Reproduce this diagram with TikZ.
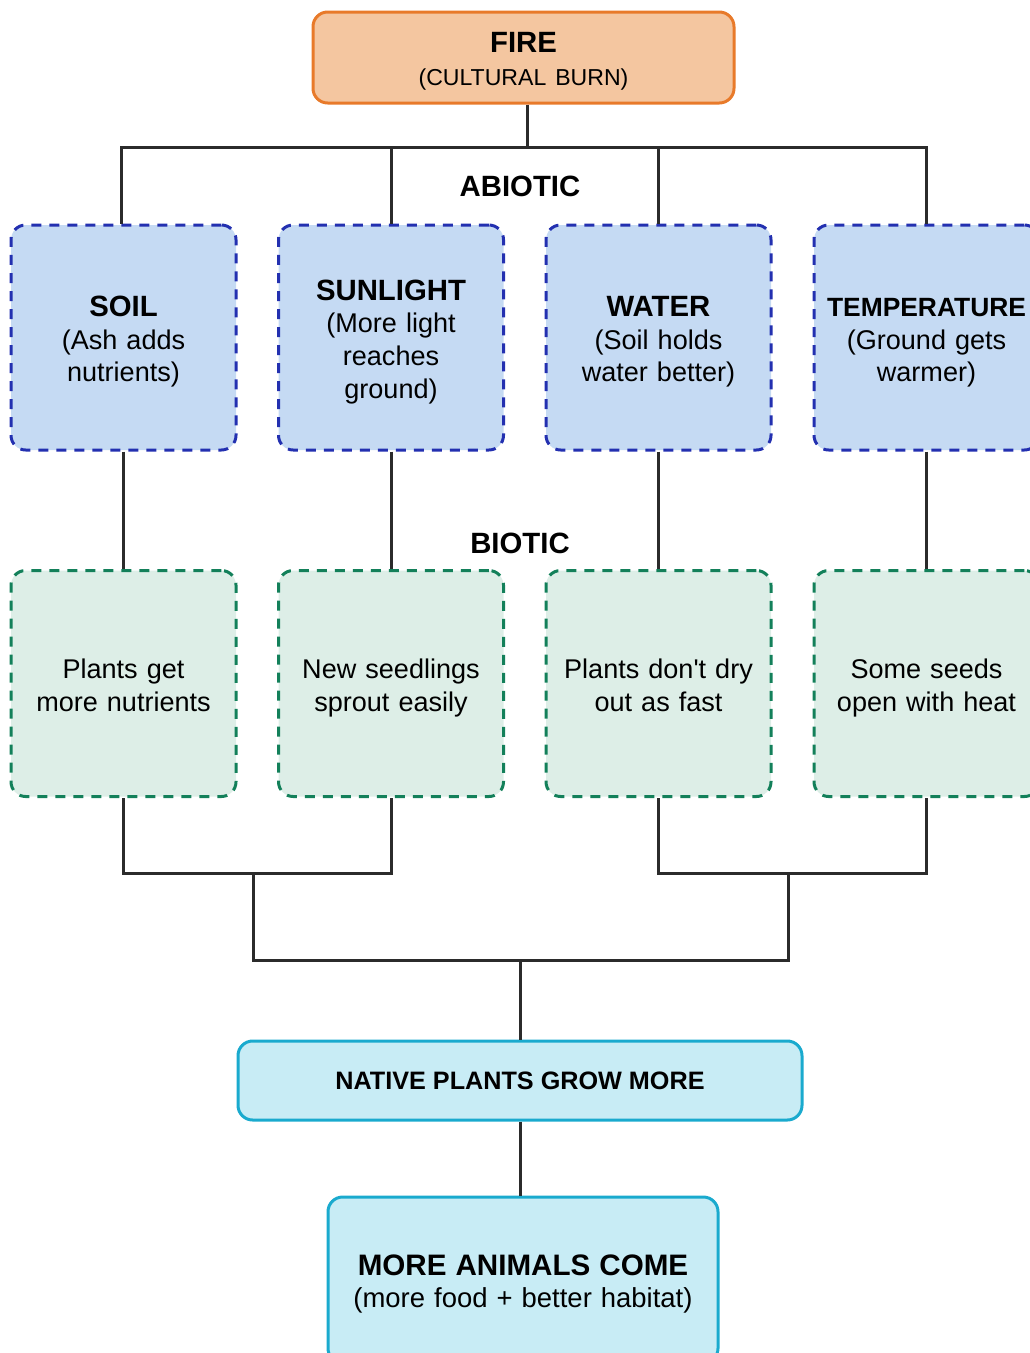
\documentclass[tikz,border=0pt]{standalone}
\usepackage{fontspec}
\setmainfont{Liberation Sans}
\usepackage{xcolor}
\usetikzlibrary{positioning}
\definecolor{FireOrange}{HTML}{E87A2A}
\definecolor{FireFill}{HTML}{F4C6A0}
\definecolor{AbioBlue}{HTML}{2330B0}
\definecolor{AbioFill}{HTML}{C5DAF3}
\definecolor{BioGreen}{HTML}{13805A}
\definecolor{BioFill}{HTML}{DDEEE7}
\definecolor{ResultCyan}{HTML}{1AAACE}
\definecolor{ResultFill}{HTML}{C8ECF5}
\definecolor{LinkGray}{HTML}{2B2B2B}
\newcommand{\boxhead}[2][22]{{\fontsize{#1}{25}\selectfont\bfseries #2}}

\begin{document}
\begin{tikzpicture}[
  x=0.75pt, y=-0.75pt,
  box/.style={rounded corners=11pt, line width=2.25pt, align=center, inner sep=0pt, font=\fontsize{20.3}{24.5}\selectfont},
  lines/.style={text width=#1, execute at begin node={\rule{0pt}{22.3pt}}, execute at end node={\rule[-5pt]{0pt}{5pt}}},
  firebox/.style={box, lines=300pt, draw=FireOrange, fill=FireFill, minimum width=315.75pt, minimum height=68.25pt},
  abiotic/.style={box, lines=160pt, draw=AbioBlue, fill=AbioFill, dash pattern=on 7.5pt off 6pt, minimum width=168.75pt, minimum height=168.75pt},
  biotic/.style={box, lines=160pt, draw=BioGreen, fill=BioFill, dash pattern=on 7.5pt off 6pt, minimum width=168.75pt, minimum height=169.5pt},
  result/.style={box, draw=ResultCyan, fill=ResultFill},
  heading/.style={font=\fontsize{22}{26}\selectfont\bfseries},
  link/.style={line width=2.25pt, draw=LinkGray}
]
\useasboundingbox (0,0) rectangle (1029,1353);

\node[firebox] (fire) at (523.5,57.5) {{\fontsize{22}{25.5}\selectfont\bfseries FIRE}\\{\fontsize{17.3}{25.5}\selectfont (CULTURAL BURN)}};

\node[heading] (abiohead) at (520,186) {ABIOTIC};
\node[abiotic] (soil) at (123.5,337.5) {\boxhead{SOIL}\\(Ash adds\\nutrients)};
\node[abiotic] (sun) at (391,337.5) {\boxhead{SUNLIGHT}\\(More light\\reaches\\ground)};
\node[abiotic] (water) at (658.5,337.5) {\boxhead{WATER}\\(Soil holds\\water better)};
\node[abiotic] (temp) at (926.5,337.5) {\boxhead[19.8]{TEMPERATURE}\\(Ground gets\\warmer)};

\node[heading] (biohead) at (520,543) {BIOTIC};
\node[biotic] (nutrients) at (123.5,683.5) {Plants get\\more nutrients};
\node[biotic] (seedlings) at (391,683.5) {New seedlings\\sprout easily};
\node[biotic] (moist) at (658.5,683.5) {Plants don\textquotesingle t dry\\out as fast};
\node[biotic] (seeds) at (926.5,683.5) {Some seeds\\open with heat};

\node[result, minimum width=423pt, minimum height=59.25pt, font=\fontsize{18.9}{24}\selectfont\bfseries, execute at begin node={\rule{0pt}{17.8pt}}, execute at end node={\rule[-5pt]{0pt}{5pt}}] (native) at (520,1080.5) {NATIVE PLANTS GROW MORE};
\node[result, lines=280pt, minimum width=292.5pt, minimum height=124.5pt] (animals) at (523,1280) {{\fontsize{22.2}{26}\selectfont\bfseries MORE ANIMALS COME}\\{\fontsize{20.6}{26}\selectfont (more food + better habitat)}};

\coordinate (topbar) at (527,147);
\coordinate (leftjoin) at (253,873);
\coordinate (rightjoin) at (788,873);
\coordinate (lowbar) at (520,960);

\draw[link] (fire.south -| topbar) -- (topbar);
\draw[link] (soil.north -| 121,0) |- (topbar) -| (temp.north);
\draw[link] (sun.north) -- (sun.north |- topbar);
\draw[link] (water.north) -- (water.north |- topbar);

\draw[link] (soil.south) -- (nutrients.north);
\draw[link] (sun.south) -- (seedlings.north);
\draw[link] (water.south) -- (moist.north);
\draw[link] (temp.south) -- (seeds.north);

\draw[link] (nutrients.south) |- (leftjoin) -| (seedlings.south);
\draw[link] (moist.south) |- (rightjoin) -| (seeds.south);
\draw[link] (leftjoin) |- (lowbar) -| (rightjoin);
\draw[link] (lowbar) -- (native.north);
\draw[link] (native.south) -- (native.south |- animals.north);
\end{tikzpicture}
\end{document}
